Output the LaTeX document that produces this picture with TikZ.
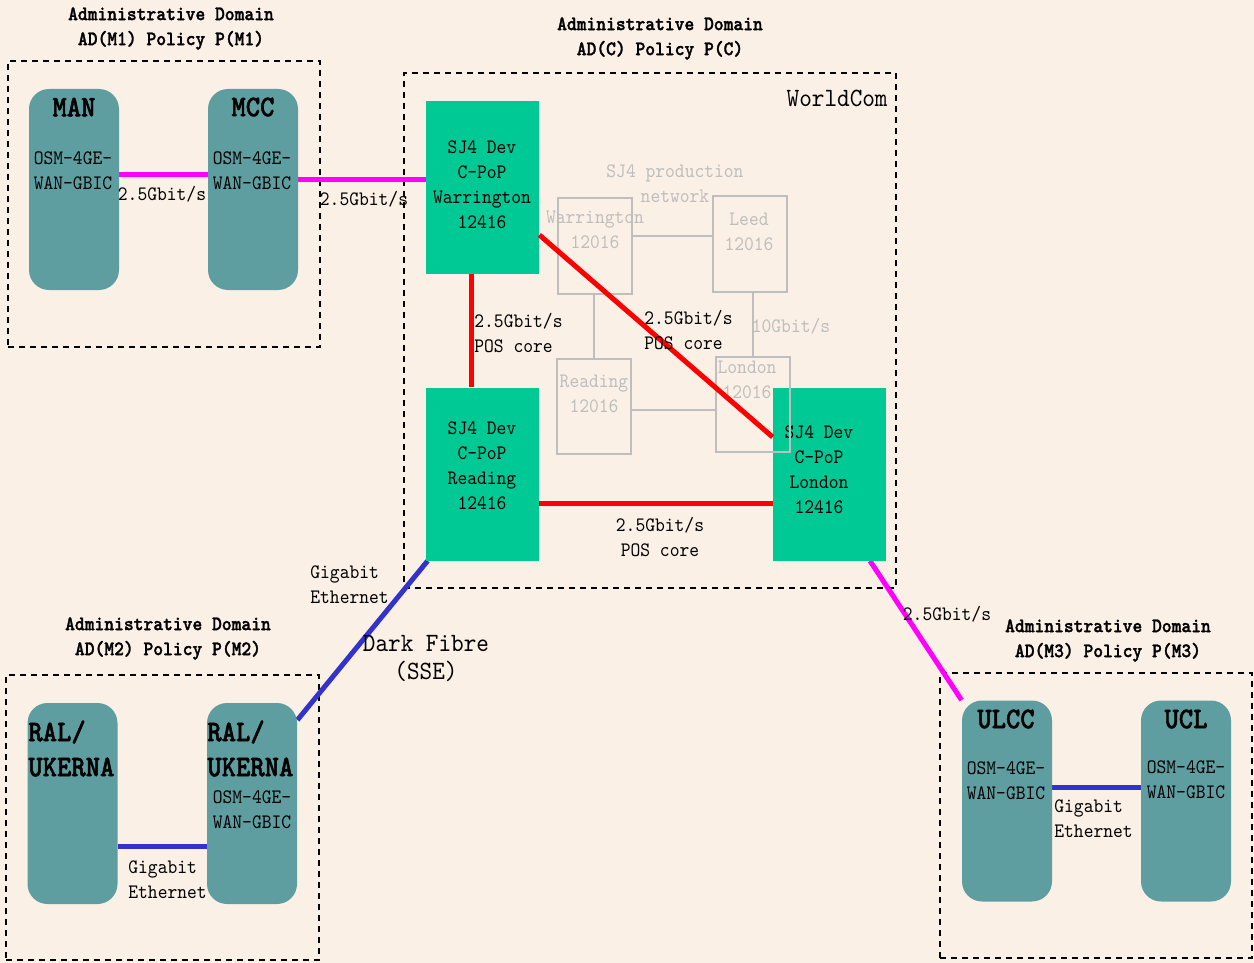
\documentclass[tikz,border=0pt]{standalone}
\usepackage{fontspec}
\newfontfamily\mono{lmmono10-regular.otf}[FakeStretch=0.91, BoldFont=lmmonolt10-bold.otf, BoldFeatures={FakeBold=1.5}]
\usetikzlibrary{backgrounds}
\definecolor{paper}{HTML}{FAF0E6}
\definecolor{router}{HTML}{5F9EA0}
\definecolor{cpopgreen}{HTML}{00C995}
\definecolor{prodgray}{HTML}{BEBEBE}
\definecolor{linkblue}{HTML}{3333CC}
\definecolor{linkmag}{HTML}{FF00FF}
\definecolor{linkred}{HTML}{FF0000}
\pgfdeclarelayer{back}
\pgfdeclarelayer{lines}
\pgfsetlayers{back,lines,main}
\begin{document}
\begin{tikzpicture}[x=0.5pt,y=-0.5pt,
  dombox/.style={draw=black, dash pattern=on 3pt off 2.5pt, line width=0.7pt, inner sep=0},
  dev/.style={fill=router, rounded corners=10pt, minimum width=45pt, minimum height=100.5pt, inner sep=0},
  cpop/.style={fill=cpopgreen, minimum width=56.5pt, minimum height=86.5pt, inner sep=0},
  prod/.style={draw=prodgray, line width=1pt, minimum width=37pt, minimum height=47.5pt, inner sep=0},
  txt/.style={font=\mono\fontsize{10.25}{12.5}\selectfont, align=center, inner sep=0},
  ltxt/.style={txt, align=left, anchor=west},
  ttl/.style={font=\mono\bfseries\fontsize{10.25}{12.5}\selectfont, align=center, inner sep=0},
  devname/.style={font=\mono\bfseries\fontsize{15}{17.5}\selectfont, align=left, inner sep=0},
  gtxt/.style={txt, text=prodgray},
  bigtxt/.style={font=\mono\fontsize{13.2}{14}\selectfont, align=center, inner sep=0},
  maglink/.style={draw=linkmag, line width=2.5pt},
  bluelink/.style={draw=linkblue, line width=2.5pt},
  redlink/.style={draw=linkred, line width=2.5pt},
  glink/.style={draw=prodgray, line width=1pt}]

% page and administrative domains
\begin{pgfonlayer}{back}
  \fill[paper] (0,0) rectangle (1254,963);
\end{pgfonlayer}
\useasboundingbox (0,0) rectangle (1254,963);

\begin{pgfonlayer}{back}
  \node[dombox, minimum width=156pt, minimum height=143pt] (dm1) at (164,204) {};
  \node[dombox, minimum width=246pt, minimum height=257.5pt] (dc) at (650,330.5) {};
  \node[dombox, minimum width=156.5pt, minimum height=142.5pt] (dm2) at (162.5,817.5) {};
  \node[dombox, minimum width=156pt, minimum height=142.5pt] (dm3) at (1096,815.5) {};
\end{pgfonlayer}

\node[ttl] (t1) at (171,28.5) {Administrative Domain\\AD(M1) Policy P(M1)};
\node[ttl] (tc) at (660,38.5) {Administrative Domain\\AD(C) Policy P(C)};
\node[ttl] (t2) at (168,638.5) {Administrative Domain\\AD(M2) Policy P(M2)};
\node[ttl] (t3) at (1108,640.5) {Administrative Domain\\AD(M3) Policy P(M3)};
\node[bigtxt, anchor=east] (wcom) at (888,98) {WorldCom};

% routers of the member domains
\node[dev] (man) at (74,189.5) {};
\node[dev] (mcc) at (253,189.5) {};
\node[dev] (ral1) at (72.5,803.5) {};
\node[dev] (ral2) at (252,803.5) {};
\node[dev] (ulcc) at (1007,801) {};
\node[dev] (ucl) at (1186,801) {};

\node[devname] (manN) at (74,107) {MAN};
\node[txt] (manO) at (73,170.5) {OSM-4GE-\\WAN-GBIC};
\node[devname] (mccN) at (253,107) {MCC};
\node[txt] (mccO) at (252,170.5) {OSM-4GE-\\WAN-GBIC};
\node[devname, anchor=west] (ral1N) at (28,748.5) {RAL/\\UKERNA};
\node[devname, anchor=west] (ral2N) at (207,748.5) {RAL/\\UKERNA};
\node[txt] (ral2O) at (252,810) {OSM-4GE-\\WAN-GBIC};
\node[devname] (ulccN) at (1006,719) {ULCC};
\node[txt] (ulccO) at (1006,781) {OSM-4GE-\\WAN-GBIC};
\node[devname] (uclN) at (1186,719) {UCL};
\node[txt] (uclO) at (1186,779.5) {OSM-4GE-\\WAN-GBIC};

% C-PoP routers
\node[cpop] (warr) at (482.5,187.5) {};
\node[cpop] (read) at (482.5,474) {};
\node[cpop] (lond) at (829.5,474) {};
\node[txt] (warrT) at (482,185) {SJ4 Dev\\C-PoP\\Warrington\\12416};
\node[txt] (readT) at (482,466) {SJ4 Dev\\C-PoP\\Reading\\12416};
\node[txt] (londT) at (819,469.5) {SJ4 Dev\\C-PoP\\London\\12416};

% SJ4 production network
\node[gtxt] (prodT) at (675,183.5) {SJ4 production\\network};
\node[prod] (pw) at (595,246) {};
\node[prod] (pl) at (750,244) {};
\node[prod] (pr) at (593.5,406.5) {};
\node[prod] (pn) at (753,404.5) {};
\node[gtxt] (pwT) at (595,230) {Warrington\\12016};
\node[gtxt] (plT) at (749,231.5) {Leed\\12016};
\node[gtxt] (prT) at (594,394) {Reading\\12016};
\node[gtxt] (pnT) at (747,380) {London\\12016};
\draw[glink] ([yshift=5pt]pw.east) -- ([yshift=4pt]pl.west);
\draw[glink] (pr.north) -- (pr.north |- pw.south);
\draw[glink] (pn.north) -- (pn.north |- pl.south);
\draw[glink] ([yshift=-1.75pt]pr.east) -- ([yshift=-1.75pt]pr.east -| pn.west);
\node[gtxt] (tenG) at (791,326) {10Gbit/s};

% POS core links
\draw[redlink] ([xshift=-5.75pt]warr.south) -- ([xshift=-5.75pt]read.north);
\draw[redlink] ([yshift=-23.75pt]warr.east) -- ([yshift=18.5pt]lond.west);
\draw[redlink] ([yshift=-14.5pt]read.east) -- ([yshift=-14.5pt]lond.west);
\node[ltxt] (posA) at (474,333) {2.5Gbit/s\\POS core};
\node[ltxt] (posB) at (644,330) {2.5Gbit/s\\POS core};
\node[txt] (posC) at (660,537) {2.5Gbit/s\\POS core};

% access links
\begin{pgfonlayer}{lines}
  \draw[maglink] ([yshift=7.25pt]man.east) -- ([yshift=7.25pt]mcc.west);
  \draw[maglink] ([yshift=4.75pt]mcc.east) -- ([yshift=3.75pt]warr.west);
  \draw[maglink] ([xshift=20.25pt]lond.south) -- (ulcc.north west);
  \draw[bluelink] ([xshift=1pt]read.south west) -- ([yshift=41.75pt]ral2.east);
  \draw[bluelink] ([yshift=-21.25pt]ral1.east) -- ([yshift=-21.25pt]ral2.west);
  \draw[bluelink] ([yshift=7pt]ulcc.east) -- ([yshift=7pt]ucl.west);
\end{pgfonlayer}

\node[txt] (lk1) at (162,194) {2.5Gbit/s};
\node[txt] (lk2) at (364,199) {2.5Gbit/s};
\node[txt] (lk3) at (947,614) {2.5Gbit/s};
\node[ltxt] (ge1) at (310,584.5) {Gigabit\\Ethernet};
\node[bigtxt] (dark) at (426,659) {Dark Fibre\\(SSE)};
\node[ltxt] (ge2) at (128,879.5) {Gigabit\\Ethernet};
\node[ltxt] (ge3) at (1054,818.5) {Gigabit\\Ethernet};
\end{tikzpicture}
\end{document}
